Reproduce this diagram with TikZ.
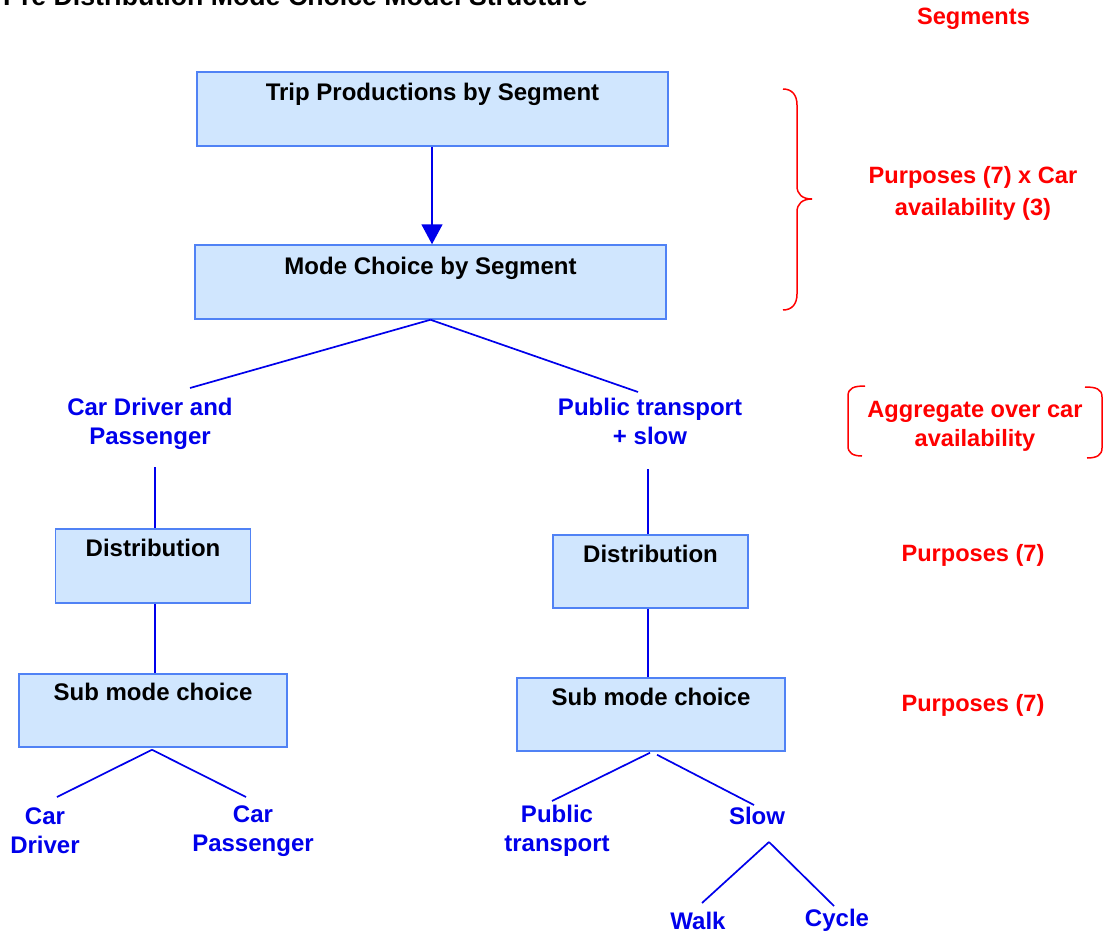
\documentclass[tikz,border=0pt]{standalone}
\usepackage{fontspec}
\setmainfont{Liberation Sans}
\usetikzlibrary{arrows.meta,calc}
\definecolor{boxfill}{RGB}{208,230,254}
\definecolor{boxline}{RGB}{80,130,245}
\definecolor{treeblue}{RGB}{0,0,235}
\definecolor{labred}{RGB}{255,0,0}
\tikzset{
  mbox/.style={draw=boxline, line width=1.5pt, fill=boxfill, rectangle, inner sep=0pt},
  btext/.style={font=\fontsize{24}{29}\selectfont\bfseries, text=black, inner sep=0pt},
  ttext/.style={font=\fontsize{24}{29}\selectfont\bfseries, text=treeblue, align=center, inner sep=0pt},
  rtext/.style={font=\fontsize{23.6}{32}\selectfont\bfseries, text=labred, align=center, inner sep=0pt},
  tline/.style={draw=treeblue, line width=1.7pt},
  rline/.style={draw=labred, line width=1.5pt}
}
\begin{document}
\begin{tikzpicture}[x=1pt,y=-1pt]
\clip (0,0) rectangle (1117,934);
\useasboundingbox (0,0) rectangle (1117,934);
\fill[white] (0,0) rectangle (1117,934);

% title (cut off at the top, as in the reference)
\node[anchor=base west, inner sep=0pt, font=\fontsize{26.7}{32}\selectfont\bfseries] (title) at (3,5.5) {Pre Distribution Mode Choice Model Structure};

% boxes
\node[mbox, minimum width=471, minimum height=74,
  label={[btext, anchor=base, yshift=-29pt]north:Trip Productions by Segment}] (tp) at (432.5,109) {};
\node[mbox, minimum width=471, minimum height=74,
  label={[btext, anchor=base, yshift=-30pt]north:Mode Choice by Segment}] (mc) at (430.5,282) {};
\node[mbox, minimum width=195, minimum height=74,
  label={[btext, anchor=base, yshift=-28pt]north:Distribution}] (dl) at (153,566) {};
\node[mbox, minimum width=195, minimum height=73,
  label={[btext, anchor=base, yshift=-28pt]north:Distribution}] (dr) at (650.5,571.5) {};
\node[mbox, minimum width=268, minimum height=73,
  label={[btext, anchor=base, yshift=-27pt]north:Sub mode choice}] (sl) at (153,710.5) {};
\node[mbox, minimum width=268, minimum height=73,
  label={[btext, anchor=base, yshift=-28pt]north:Sub mode choice}] (sr) at (651,714.5) {};

% tree labels
\node[ttext] (cdp) at (150,424) {Car Driver and\\Passenger};
\node[ttext] (pts) at (650,421) {Public transport\\+ slow};
\node[ttext] (cd) at (45,831) {Car\\Driver};
\node[ttext] (cp) at (253,831) {Car\\Passenger};
\node[ttext] (pt) at (557,831) {Public\\transport};
\node[ttext] (slow) at (757,816) {Slow};
\node[ttext] (walk) at (698,921) {Walk};
\node[ttext] (cycle) at (837,920) {Cycle};

% connectors
\draw[tline, -{Triangle[width=21pt,length=20pt]}] (tp.south -| 432,0) -- (mc.north -| 432,0);
\draw[tline] (mc.south) -- ($(cdp.center)+(40,-36)$);
\draw[tline] (mc.south) -- ($(pts.center)+(-12,-29)$);
\draw[tline] ($(dl.north)+(2,-61)$) -- ($(dl.north)+(2,0)$);
\draw[tline] ($(dl.south)+(2,0)$) -- ($(sl.north)+(2,0)$);
\draw[tline] ($(dr.north)+(-2.5,-65)$) -- ($(dr.north)+(-2.5,0)$);
\draw[tline] ($(dr.south)+(-2.5,0)$) -- ($(sr.north)+(-3,0)$);
\draw[tline] ($(sl.south)+(-1,2)$) -- ($(cd.center)+(12,-34)$);
\draw[tline] ($(sl.south)+(-1,2)$) -- ($(cp.center)+(-7,-34)$);
\draw[tline] ($(sr.south)+(-1,1)$) -- ($(pt.center)+(-5,-30)$);
\draw[tline] ($(sr.south)+(6,3)$) -- ($(slow.center)+(-3,-11)$);
\draw[tline] ($(slow.center)+(12,26)$) -- ($(walk.center)+(4,-18)$);
\draw[tline] ($(slow.center)+(12,26)$) -- ($(cycle.center)+(-3,-14)$);

% red annotations
\node[rtext, anchor=base] (seg) at (973.5,25) {Segments};
\node[rtext] (pur1) at (973,193) {Purposes (7) x Car\\availability (3)};
\node[rtext, font=\fontsize{23.6}{29}\selectfont\bfseries] (agg) at (975,426) {Aggregate over car\\availability};
\node[rtext] (pur2) at (973,555) {Purposes (7)};
\node[rtext] (pur3) at (973,705) {Purposes (7)};

% brace
\draw[rline] (783,89) .. controls (792,89) and (797,95) .. (797,105)
  -- (797,186) .. controls (797,194) and (802,199) .. (812,199)
  .. controls (802,199) and (797,204) .. (797,212)
  -- (797,294) .. controls (797,304) and (792,310) .. (783,310);
% bracket
\draw[rline] (865,386) .. controls (854,386) and (848,388) .. (848,396)
  -- (848,446) .. controls (848,453) and (853,456) .. (862,456);
\draw[rline] (1085,387) .. controls (1096,387) and (1102,389) .. (1102,397)
  -- (1102,448) .. controls (1102,455) and (1097,458) .. (1087,458);
\end{tikzpicture}
\end{document}
